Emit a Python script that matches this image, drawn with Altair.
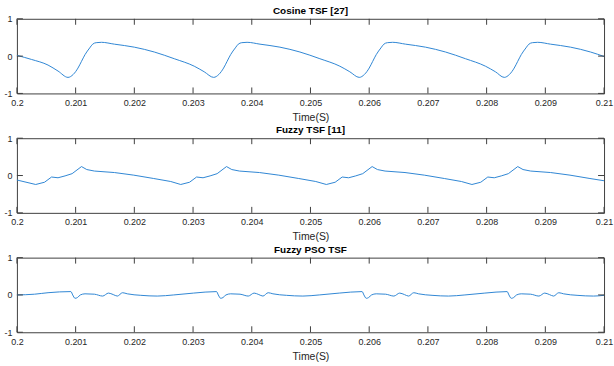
import altair as alt
import pandas as pd

# ---------------- data ----------------
cos_t = [0.20000, 0.20025, 0.20053, 0.20070, 0.20087, 0.20096, 0.20104, 0.20110, 0.20116, 0.20124,
         0.20129, 0.20135, 0.20144, 0.20166, 0.20200, 0.20234, 0.20268, 0.20302, 0.20319,
         0.20335, 0.20344, 0.20352, 0.20358, 0.20364, 0.20372, 0.20377, 0.20383, 0.20392,
         0.20414, 0.20448, 0.20482, 0.20516, 0.20550, 0.20567,
         0.20583, 0.20592, 0.20600, 0.20606, 0.20612, 0.20620, 0.20625, 0.20631, 0.20640,
         0.20662, 0.20696, 0.20730, 0.20764, 0.20798, 0.20815,
         0.20830, 0.20839, 0.20847, 0.20853, 0.20859, 0.20867, 0.20872, 0.20878, 0.20887,
         0.20909, 0.20943, 0.20977, 0.21000]
cos_v = [0.02, -0.09, -0.24, -0.40, -0.57, -0.49, -0.32, -0.14, 0.04, 0.22,
         0.32, 0.36, 0.37, 0.32, 0.24, 0.11, -0.07, -0.27, -0.42,
         -0.57, -0.49, -0.32, -0.14, 0.04, 0.22, 0.32, 0.36, 0.37,
         0.32, 0.24, 0.11, -0.07, -0.27, -0.42,
         -0.57, -0.49, -0.32, -0.14, 0.04, 0.22, 0.32, 0.36, 0.37,
         0.32, 0.24, 0.11, -0.07, -0.27, -0.42,
         -0.57, -0.49, -0.32, -0.14, 0.04, 0.22, 0.32, 0.36, 0.37,
         0.32, 0.24, 0.11, -0.01]

fz_t = [0.20000,
        0.20032, 0.20047, 0.20059, 0.20070, 0.20082, 0.20094, 0.20110, 0.20119, 0.20132, 0.20166, 0.20199, 0.20233, 0.20262,
        0.20279, 0.20294, 0.20306, 0.20317, 0.20329, 0.20341, 0.20357, 0.20366, 0.20379, 0.20413, 0.20446, 0.20480, 0.20509,
        0.20527, 0.20542, 0.20554, 0.20565, 0.20577, 0.20589, 0.20605, 0.20614, 0.20627, 0.20661, 0.20694, 0.20728, 0.20757,
        0.20775, 0.20790, 0.20802, 0.20813, 0.20825, 0.20837, 0.20853, 0.20862, 0.20875, 0.20909, 0.20942, 0.20976,
        0.21000]
fz_v = [-0.12,
        -0.24, -0.18, -0.04, -0.06, -0.01, 0.05, 0.24, 0.16, 0.12, 0.08, 0.01, -0.08, -0.16,
        -0.24, -0.18, -0.04, -0.06, -0.01, 0.05, 0.24, 0.16, 0.12, 0.08, 0.01, -0.08, -0.16,
        -0.24, -0.18, -0.04, -0.06, -0.01, 0.05, 0.24, 0.16, 0.12, 0.08, 0.01, -0.08, -0.16,
        -0.24, -0.18, -0.04, -0.06, -0.01, 0.05, 0.24, 0.16, 0.12, 0.08, 0.01, -0.08,
        -0.14]

pso_t = [0.20000, 0.20030, 0.20053,
         0.20092, 0.20095, 0.20099, 0.20103, 0.20108, 0.20116, 0.20132, 0.20146, 0.20156, 0.20164, 0.20171,
         0.20180, 0.20188, 0.20211, 0.20239, 0.20267, 0.20301,
         0.20340, 0.20343, 0.20347, 0.20351, 0.20356, 0.20364, 0.20380, 0.20394, 0.20404, 0.20412, 0.20419,
         0.20428, 0.20436, 0.20459, 0.20487, 0.20515, 0.20549,
         0.20588, 0.20591, 0.20595, 0.20599, 0.20604, 0.20612, 0.20628, 0.20642, 0.20652, 0.20660, 0.20667,
         0.20676, 0.20684, 0.20707, 0.20735, 0.20763, 0.20797,
         0.20835, 0.20838, 0.20842, 0.20846, 0.20851, 0.20859, 0.20875, 0.20889, 0.20899, 0.20907, 0.20914,
         0.20923, 0.20931, 0.20954, 0.20982, 0.21000]
pso_v = [0.00, 0.02, 0.06,
         0.09, 0.00, -0.09, -0.07, 0.00, 0.03, 0.02, -0.03, 0.05, 0.01, -0.03,
         0.06, 0.03, -0.01, -0.03, 0.00, 0.05,
         0.09, 0.00, -0.09, -0.07, 0.00, 0.03, 0.02, -0.03, 0.05, 0.01, -0.03,
         0.06, 0.03, -0.01, -0.03, 0.00, 0.05,
         0.09, 0.00, -0.09, -0.07, 0.00, 0.03, 0.02, -0.03, 0.05, 0.01, -0.03,
         0.06, 0.03, -0.01, -0.03, 0.00, 0.05,
         0.09, 0.00, -0.09, -0.07, 0.00, 0.03, 0.02, -0.03, 0.05, 0.01, -0.03,
         0.06, 0.03, -0.01, -0.03, -0.01]

x_ticks = [0.2, 0.201, 0.202, 0.203, 0.204, 0.205, 0.206, 0.207, 0.208, 0.209, 0.21]
y_ticks = [-1, 0, 1]
titles = ["Cosine TSF [27]", "Fuzzy TSF [11]", "Fuzzy PSO TSF"]
x_title = "Time(S)"

# ---------------- style ----------------
W, H = 590, 75
FONT = "Liberation Sans"
LINE = "#2f86d4"
BOX = "#404040"
TXT = "#262626"
TICK = 6

xt_df = pd.DataFrame({"t": x_ticks})
yt_df = pd.DataFrame({"v": y_ticks})


def panel(t, v, title, interp):
    df = pd.DataFrame({"t": t, "v": v})
    xenc = alt.X(
        "t:Q",
        scale=alt.Scale(domain=[0.2, 0.21], nice=False, zero=False),
        axis=alt.Axis(values=x_ticks, format=".3~f", title=x_title, ticks=False, tickSize=0,
                      domain=False, grid=False, labelFlush=False, labelPadding=5,
                      titlePadding=5, labelFontSize=9, titleFontSize=10.5,
                      titleFontWeight="normal", labelColor=TXT, titleColor=TXT,
                      labelFont=FONT, titleFont=FONT),
    )
    yenc = alt.Y(
        "v:Q",
        scale=alt.Scale(domain=[-1, 1], nice=False, zero=False),
        axis=alt.Axis(values=y_ticks, labelExpr="toString(datum.value)", labelOverlap=False,
                      title=None, ticks=False, tickSize=0,
                      domain=False, grid=False, labelPadding=5, labelFontSize=9,
                      labelColor=TXT, labelFont=FONT),
    )
    line = alt.Chart(df).mark_line(color=LINE, strokeWidth=1, interpolate=interp).encode(x=xenc, y=yenc)
    xbot = alt.Chart(xt_df).mark_rule(color=BOX, strokeWidth=1).encode(
        x=xenc, y=alt.value(H), y2=alt.value(H - TICK))
    xtop = alt.Chart(xt_df).mark_rule(color=BOX, strokeWidth=1).encode(
        x=xenc, y=alt.value(0), y2=alt.value(TICK))
    yl = alt.Chart(yt_df).mark_rule(color=BOX, strokeWidth=1).encode(
        y=yenc, x=alt.value(0), x2=alt.value(TICK))
    yr = alt.Chart(yt_df).mark_rule(color=BOX, strokeWidth=1).encode(
        y=yenc, x=alt.value(W), x2=alt.value(W - TICK))
    return alt.layer(line, xbot, xtop, yl, yr).properties(
        width=W, height=H,
        title=alt.TitleParams(title, fontSize=10, fontWeight="bold", font=FONT, color="black",
                              anchor="middle", frame="group", baseline="alphabetic", offset=-9),
    )


chart = alt.vconcat(
    panel(cos_t, cos_v, titles[0], "monotone"),
    panel(fz_t, fz_v, titles[1], "linear"),
    panel(pso_t, pso_v, titles[2], "monotone"),
    spacing=45,
    bounds="flush",
).properties(
    padding={"left": 3, "top": 4, "right": 0, "bottom": 0},
    background="white",
).configure_view(stroke=BOX, strokeWidth=1)

chart.save("out.html", embed_options={"renderer": "svg", "actions": False})
